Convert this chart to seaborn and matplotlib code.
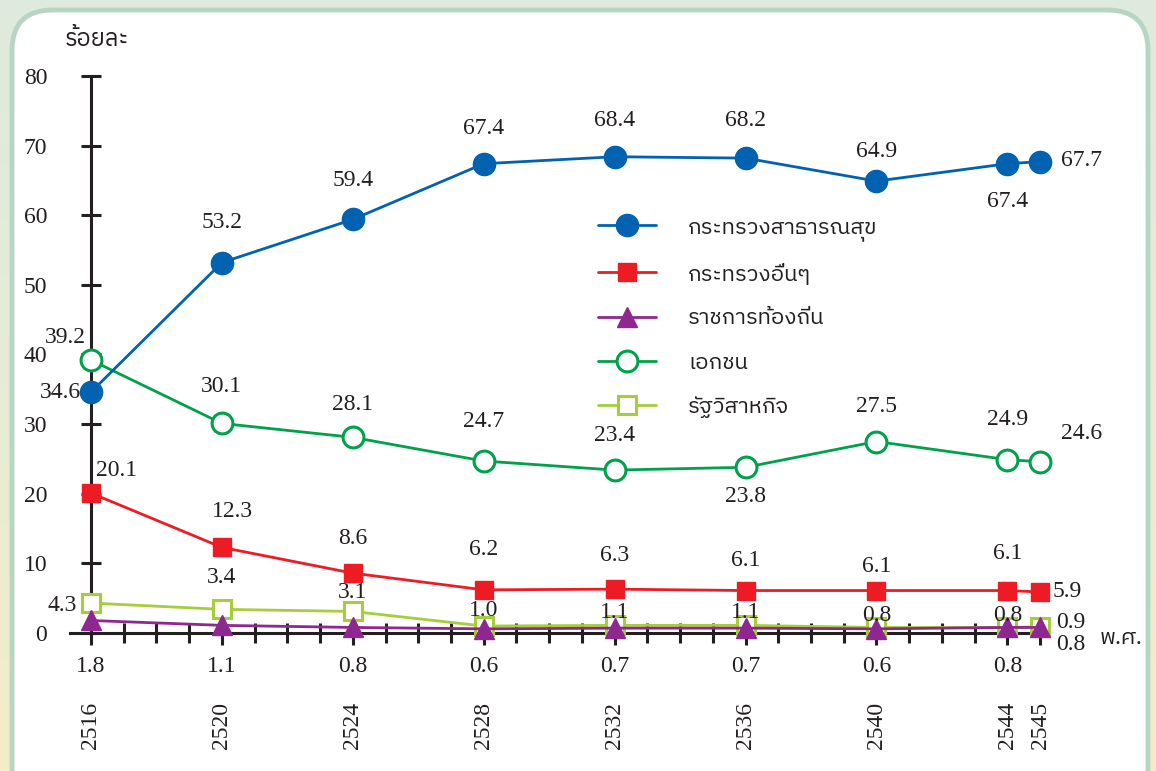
import numpy as np
import pandas as pd
import matplotlib
matplotlib.use("Agg")
import matplotlib.pyplot as plt
import seaborn as sns
from matplotlib import font_manager
from matplotlib.patches import FancyBboxPatch

# ข้อมูล: สัดส่วนเตียงผู้ป่วย (ร้อยละ) จำแนกตามสังกัด
years = [2516, 2520, 2524, 2528, 2532, 2536, 2540, 2544, 2545]
moph = [34.6, 53.2, 59.4, 67.4, 68.4, 68.2, 64.9, 67.4, 67.7]
other_min = [20.1, 12.3, 8.6, 6.2, 6.3, 6.1, 6.1, 6.1, 5.9]
local_gov = [1.8, 1.1, 0.8, 0.6, 0.7, 0.7, 0.6, 0.8, 0.8]
private = [39.2, 30.1, 28.1, 24.7, 23.4, 23.8, 27.5, 24.9, 24.6]
state_ent = [4.3, 3.4, 3.1, 1.0, 1.1, 1.1, 0.8, 0.8, 0.9]

names = ["กระทรวงสาธารณสุข", "กระทรวงอื่นๆ", "ราชการท้องถิ่น", "เอกชน", "รัฐวิสาหกิจ"]
yticks = [0, 10, 20, 30, 40, 50, 60, 70, 80]


def find_thai_font():
    try:
        from fontTools.ttLib import TTFont
    except Exception:
        return None
    found = []
    for f in font_manager.fontManager.ttflist:
        try:
            tt = TTFont(f.fname, fontNumber=0, lazy=True)
            cmap = tt.getBestCmap()
            if cmap and 0x0E01 in cmap and 0x0E48 in cmap:
                found.append(f.name)
        except Exception:
            pass
    pref = [n for n in found if "Thai" in n and "Looped" not in n]
    if pref:
        return pref[0]
    return found[0] if found else None


sns.set_theme(style="white")
thai = find_thai_font()
serif = "Liberation Serif"
fam = [thai, "DejaVu Sans"] if thai else ["DejaVu Sans"]
plt.rcParams["font.family"] = fam

df = pd.DataFrame({"year": years, "moph": moph, "other": other_min,
                   "local": local_gov, "private": private, "state": state_ent})

fig = plt.figure(figsize=(11.56, 7.71), dpi=100)

# พื้นหลังไล่สี + กรอบมุมมน
bg = fig.add_axes([0, 0, 1, 1], zorder=-10)
grad = np.linspace(0, 1, 256).reshape(-1, 1)
cmap = matplotlib.colors.LinearSegmentedColormap.from_list("bg", ["#dfeade", "#e6ecd6", "#f4edca"])
bg.imshow(grad, aspect="auto", cmap=cmap, extent=[0, 1, 0, 1], origin="upper")
bg.add_patch(FancyBboxPatch((12 / 1156, -0.05), 1136 / 1156, 1.05 - 10 / 771,
                            boxstyle="round,pad=0,rounding_size=0.035",
                            transform=bg.transAxes, facecolor="white",
                            edgecolor="#b7d5c3", linewidth=3.5, mutation_aspect=1156 / 771))
bg.set_xlim(0, 1)
bg.set_ylim(0, 1)
bg.axis("off")

ax = fig.add_axes([70 / 1156, 1 - 636.5 / 771, 975 / 1156, (636.5 - 69) / 771])
ax.patch.set_alpha(0)

styles = {
    "state": dict(color="#a6cd3a", marker="s", mfc="white", ms=13, z=3),
    "private": dict(color="#00a14b", marker="o", mfc="white", ms=15, z=4),
    "local": dict(color="#8e278f", marker="^", mfc="#8e278f", ms=15, z=5),
    "other": dict(color="#ed1c24", marker="s", mfc="#ed1c24", ms=13, z=6),
    "moph": dict(color="#0062b1", marker="o", mfc="#0062b1", ms=16, z=7),
}
labels = {"moph": names[0], "other": names[1], "local": names[2], "private": names[3], "state": names[4]}
handles = {}
for key in ["state", "private", "local", "other", "moph"]:
    st = styles[key]
    sns.lineplot(data=df, x="year", y=key, ax=ax, color=st["color"], marker=st["marker"],
                 markersize=st["ms"], markerfacecolor=st["mfc"], markeredgecolor=st["color"],
                 markeredgewidth=2.2 if st["mfc"] == "white" else 1, linewidth=2,
                 label=labels[key], zorder=st["z"], clip_on=False)
    handles[key] = ax.lines[-1]

ax.set_xlim(2515.36, 2545.15)
ax.set_ylim(-0.5, 81)
for s in ["top", "right"]:
    ax.spines[s].set_visible(False)
ax.spines["left"].set_position(("data", 2516))
ax.spines["left"].set_bounds(0, 80)
ax.spines["bottom"].set_position(("data", 0))
for s in ["left", "bottom"]:
    ax.spines[s].set_color("#231f20")
    ax.spines[s].set_linewidth(2.2)
    ax.spines[s].set_zorder(2)

ax.set_yticks(yticks)
ax.set_yticklabels([str(v) for v in yticks], family=serif, fontsize=17, color="#231f20")
ax.tick_params(axis="y", direction="inout", length=14, width=2.2, color="#231f20", pad=24.5, left=True)
ax.set_xticks(years)
ax.set_xticks(range(2516, 2546), minor=True)
ax.set_xticklabels([str(y) for y in years], rotation=90, family=serif, fontsize=17,
                   color="#231f20", va="top")
ax.tick_params(axis="x", which="both", direction="inout", width=2.2, color="#231f20", bottom=True)
ax.tick_params(axis="x", which="major", length=17, pad=41)
ax.tick_params(axis="x", which="minor", length=14)
ax.set_xlabel("")
ax.set_ylabel("")

# ป้ายค่า (ระยะเลื่อนเป็นพิกเซล)
lbl_kw = dict(textcoords="offset pixels", family=serif, fontsize=17, color="#231f20",
              ha="center", va="center", zorder=10)
off = {
    "moph": [(-31, 0), (0, 40), (0, 39), (0, 35), (0, 36), (0, 38), (0, 30), (0, -38), (41, 1)],
    "private": [(-26, 23), (0, 37), (0, 33), (0, 40), (0, 35), (0, -29), (0, 35), (0, 40), (41, 28)],
    "other": [(26, 23), (11, 36), (0, 35), (0, 40), (0, 34), (0, 30), (0, 24), (0, 37), (27, 0)],
    "state": [(-29, -2), (0, 32), (0, 19), (0, 16), (0, 13), (0, 13), (0, 12), (0, 12), (31, 4)],
}
for key, offs in off.items():
    for yr, v, o in zip(years, df[key], offs):
        ax.annotate(f"{v:.1f}", xy=(yr, v), xytext=o, **lbl_kw)
# ราชการท้องถิ่น: ค่าแสดงใต้แกน
for yr, v in zip(years[:-1], local_gov[:-1]):
    ax.annotate(f"{v:.1f}", xy=(yr, 0), xytext=(0, -33), **lbl_kw)
ax.annotate(f"{local_gov[-1]:.1f}", xy=(years[-1], local_gov[-1]), xytext=(31, -17), **lbl_kw)

fig.text(1100 / 1156, 1 - 638 / 771, "พ.ศ.", fontsize=16, ha="left", va="center", color="#231f20")
fig.text(65 / 1156, 1 - 40 / 771, "ร้อยละ", fontsize=17, ha="left", va="center", color="#231f20")

order = ["moph", "other", "local", "private", "state"]
leg = ax.legend([handles[k] for k in order], [labels[k] for k in order],
                loc="upper left", bbox_to_anchor=(587 / 1156, 1 - 205 / 771),
                bbox_transform=fig.transFigure, frameon=False, fontsize=16,
                handlelength=2.6, labelspacing=1.0, handletextpad=1.45, borderpad=0)
for t in leg.get_texts():
    t.set_color("#231f20")

fig.savefig("out.png", dpi=100)
